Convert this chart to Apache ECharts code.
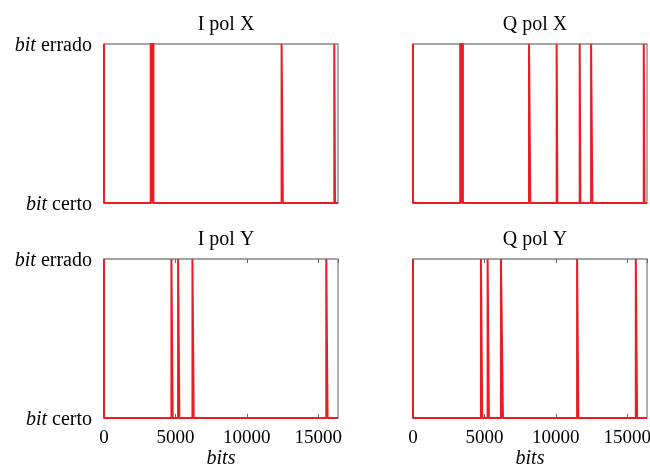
<!DOCTYPE html>
<html>
<head>
<meta charset="utf-8">
<script src="https://cdn.jsdelivr.net/npm/echarts@6/dist/echarts.min.js"></script>
<style>html,body{margin:0;padding:0;background:#fff}#c{width:650px;height:466px}</style>
</head>
<body>
<div id="c"></div>
<script>
// panel titles
const panelTitles = ['I pol X', 'Q pol X', 'I pol Y', 'Q pol Y'];
// total number of bits (x range)
const totalBits = 16384;
// x tick labels
const xTicks = [0, 5000, 10000, 15000];
// y tick labels
const yLabelOk = 'certo';
const yLabelErr = 'errado';
// error bursts [first bit, last bit] per panel
const errIPolX = [[0, 0], [3270, 3460], [12435, 12525], [16125, 16175]];
const errQPolX = [[0, 0], [3305, 3495], [8123, 8213], [10059, 10109], [11671, 11721], [12469, 12559], [16158, 16208]];
const errIPolY = [[0, 0], [4720, 4810], [5187, 5277], [6192, 6282], [15563, 15653]];
const errQPolY = [[0, 0], [4757, 4847], [5225, 5315], [6158, 6298], [11488, 11578], [15601, 15691]];

const panels = [errIPolX, errQPolX, errIPolY, errQPolY];
const FONT = 'Liberation Serif';
const RED = '#ec1c24';
const grids = [
  {left: 104, top: 44, width: 234, height: 159},
  {left: 413, top: 44, width: 234, height: 159},
  {left: 104, top: 259, width: 234, height: 159},
  {left: 413, top: 259, width: 234, height: 159}
];

function buildData(bursts) {
  const d = [[0, 0]];
  bursts.forEach(([s, e]) => { d.push([s, 0], [s, 1], [e, 1], [e, 0]); });
  d.push([totalBits, 0]);
  return d;
}

const option = {
  animation: false,
  backgroundColor: '#fff',
  title: panelTitles.map((t, i) => ({
    text: t,
    left: grids[i].left + grids[i].width / 2,
    top: grids[i].top - 34,
    textAlign: 'center',
    textStyle: {fontFamily: FONT, fontSize: 20, fontWeight: 'normal', color: '#000'}
  })),
  grid: grids.map(g => Object.assign({show: true, borderColor: '#858585', borderWidth: 1.3,
    containLabel: false, outerBoundsMode: 'none'}, g)),
  xAxis: [],
  yAxis: [],
  series: []
};

panels.forEach((bursts, i) => {
  const bottomRow = i >= 2;
  option.xAxis.push({
    type: 'value', gridIndex: i, min: 0, max: totalBits, interval: 5000,
    axisLine: {show: false},
    axisTick: {show: bottomRow, inside: true, length: 4, lineStyle: {color: '#666'}},
    splitLine: {show: false},
    axisLabel: {
      show: bottomRow, margin: 11, showMaxLabel: false,
      fontFamily: FONT, fontSize: 19, color: '#000',
      formatter: v => xTicks.includes(v) ? String(v) : ''
    },
    name: bottomRow ? 'bits' : '',
    nameLocation: 'middle', nameGap: 31,
    nameTextStyle: {fontFamily: FONT, fontSize: 20, fontStyle: 'italic', color: '#000'}
  });
  option.yAxis.push({
    type: 'value', gridIndex: i, min: 0, max: 1, interval: 1,
    axisLine: {show: false}, axisTick: {show: false}, splitLine: {show: false},
    axisLabel: {
      show: i % 2 === 0, margin: 12, fontFamily: FONT, fontSize: 20, color: '#000',
      padding: [3, 0, 0, 0],
      formatter: v => v === 1 ? '{i|bit} ' + yLabelErr : '{i|bit} ' + yLabelOk,
      rich: {i: {fontFamily: FONT, fontSize: 20, fontStyle: 'italic', color: '#000'}}
    }
  });
  option.series.push({
    type: 'line', xAxisIndex: i, yAxisIndex: i,
    data: buildData(bursts), showSymbol: false, clip: false,
    lineStyle: {color: RED, width: 2},
    areaStyle: {color: RED, opacity: 1, origin: 'start'}
  });
});

// top-edge tick marks on the lower panels
[2, 3].forEach(i => {
  option.xAxis.push({
    type: 'value', gridIndex: i, position: 'top', min: 0, max: totalBits, interval: 5000,
    axisLine: {show: false}, splitLine: {show: false}, axisLabel: {show: false},
    axisTick: {show: true, inside: true, length: 4, lineStyle: {color: '#666'}}
  });
});

const chart = echarts.init(document.getElementById('c'), null, {renderer: 'canvas'});
chart.setOption(option);
</script>
</body>
</html>
